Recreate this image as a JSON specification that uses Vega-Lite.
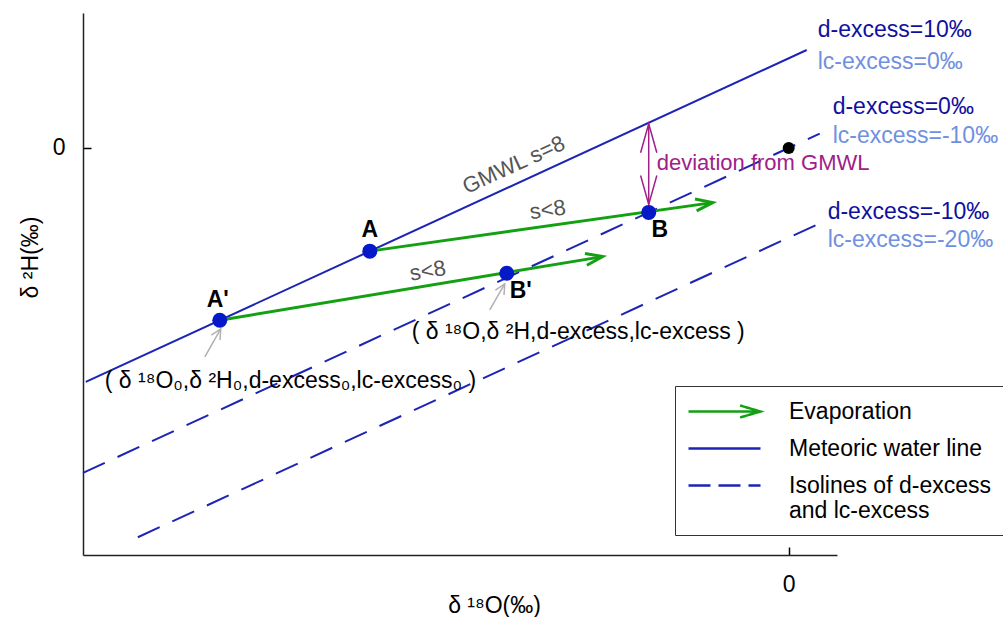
{
  "$schema": "https://vega.github.io/schema/vega-lite/v6.json",
  "width": 754,
  "height": 542,
  "autosize": {"type": "none"},
  "padding": {"left": 83, "top": 13, "right": 166, "bottom": 62},
  "background": "white",
  "config": {
    "view": {"stroke": null},
    "font": "Liberation Sans",
    "text": {"font": "Liberation Sans"}
  },
  "datasets": {
    "lines": [
      {"line": "GMWL", "series": "Meteoric water line", "x": -4.512, "y": -26.1},
      {"line": "GMWL", "series": "Meteoric water line", "x": 0.1155, "y": 10.92},
      {"line": "d0", "series": "Isolines of d-excess and lc-excess", "x": -4.53, "y": -36.24},
      {"line": "d0", "series": "Isolines of d-excess and lc-excess", "x": 0.199, "y": 1.59},
      {"line": "d-10", "series": "Isolines of d-excess and lc-excess", "x": -4.178, "y": -43.42},
      {"line": "d-10", "series": "Isolines of d-excess and lc-excess", "x": 0.173, "y": -8.62}
    ],
    "evap": [
      {"path": "A", "series": "Evaporation", "x": -2.689, "y": -11.51},
      {"path": "A", "series": "Evaporation", "x": -0.488, "y": -6.10},
      {"path": "A'", "series": "Evaporation", "x": -3.652, "y": -19.22},
      {"path": "A'", "series": "Evaporation", "x": -1.194, "y": -12.12}
    ],
    "guides": [
      {"id": "dev", "kind": "dev", "x": -0.8986, "y": 2.7},
      {"id": "dev", "kind": "dev", "x": -0.8986, "y": -6.3},
      {"id": "g1", "kind": "gray", "x": -3.748, "y": -23.30},
      {"id": "g1", "kind": "gray", "x": -3.646, "y": -20.18},
      {"id": "g2", "kind": "gray", "x": -1.919, "y": -18.06},
      {"id": "g2", "kind": "gray", "x": -1.823, "y": -15.16}
    ],
    "heads": [
      {"head": "evapA", "x": -0.488, "y": -6.10},
      {"head": "evapA2", "x": -1.194, "y": -12.12},
      {"head": "devTop", "x": -0.8986, "y": 2.7},
      {"head": "devBottom", "x": -0.8986, "y": -6.3},
      {"head": "gray", "x": -3.646, "y": -20.18},
      {"head": "gray", "x": -1.823, "y": -15.16}
    ],
    "points": [
      {"kind": "sample", "name": "A", "x": -2.689, "y": -11.51},
      {"kind": "sample", "name": "A'", "x": -3.652, "y": -19.22},
      {"kind": "sample", "name": "B", "x": -0.8986, "y": -7.19},
      {"kind": "sample", "name": "B'", "x": -1.81, "y": -13.97},
      {"kind": "origin", "name": "O", "x": 0, "y": 0}
    ],
    "texts": [
      {"group": "pt", "text": "A", "x": -2.689, "y": -9.14},
      {"group": "pt", "text": "A'", "x": -3.665, "y": -16.95},
      {"group": "pt", "text": "B", "x": -0.828, "y": -9.14},
      {"group": "pt", "text": "B'", "x": -1.72, "y": -15.94},
      {"group": "gmwl", "text": "GMWL s=8", "x": -1.765, "y": -1.895},
      {"group": "s1", "text": "s<8", "x": -1.547, "y": -6.91},
      {"group": "s2", "text": "s<8", "x": -2.317, "y": -13.71},
      {"group": "dev", "text": "deviation from GMWL", "x": -0.847, "y": -1.67},
      {"group": "coord", "text": "( δ ¹⁸O,δ ²H,d-excess,lc-excess )", "x": -2.42, "y": -20.51},
      {"group": "coord", "text": "( δ ¹⁸O₀,δ ²H₀,d-excess₀,lc-excess₀ )", "x": -4.39, "y": -25.98},
      {"group": "d", "text": "d-excess=10‰", "x": 0.186, "y": 13.15},
      {"group": "lc", "text": "lc-excess=0‰", "x": 0.186, "y": 9.59},
      {"group": "d", "text": "d-excess=0‰", "x": 0.282, "y": 4.57},
      {"group": "lc", "text": "lc-excess=-10‰", "x": 0.282, "y": 1.34},
      {"group": "d", "text": "d-excess=-10‰", "x": 0.25, "y": -7.13},
      {"group": "lc", "text": "lc-excess=-20‰", "x": 0.25, "y": -10.26}
    ]
  },
  "encoding": {
    "x": {
      "field": "x", "type": "quantitative",
      "scale": {"domain": [-4.53, 0.31], "nice": false, "zero": false},
      "axis": {
        "values": [0], "grid": false, "title": "δ ¹⁸O(‰)",
        "tickSize": -8, "tickColor": "black", "tickWidth": 1.5,
        "domainColor": "#222", "domainWidth": 1.5,
        "labelFontSize": 23, "labelColor": "black", "labelPadding": 26,
        "titleFontSize": 23, "titleFontWeight": "normal", "titleColor": "black",
        "titleX": 411, "titleY": 50, "titleAlign": "center", "titleBaseline": "middle"
      }
    },
    "y": {
      "field": "y", "type": "quantitative",
      "scale": {"domain": [-45.4, 15.05], "nice": false, "zero": false},
      "axis": {
        "values": [0], "grid": false, "title": "δ ²H(‰)",
        "tickSize": -8, "tickColor": "black", "tickWidth": 1.5,
        "domainColor": "#222", "domainWidth": 1.5,
        "labelFontSize": 23, "labelColor": "black", "labelPadding": 26,
        "titleFontSize": 23, "titleFontWeight": "normal", "titleColor": "black",
        "titleX": -53, "titleY": 244, "titleAngle": 270, "titleAlign": "center", "titleBaseline": "middle"
      }
    }
  },
  "layer": [
    {
      "data": {"name": "lines"},
      "transform": [{"filter": "datum.series == 'Meteoric water line'"}],
      "mark": {"type": "line", "strokeWidth": 2},
      "encoding": {
        "detail": {"field": "line"},
        "color": {
          "field": "series", "type": "nominal",
          "scale": {
            "domain": ["Evaporation", "Meteoric water line", "Isolines of d-excess and lc-excess"],
            "range": ["#13a013", "#1c24b4", "#1c24b4"]
          },
          "legend": {
            "orient": "none", "legendX": 592, "legendY": 373,
            "title": null, "strokeColor": "#333", "fillColor": "white",
            "padding": 12, "labelFontSize": 23, "labelFont": "Liberation Sans", "labelColor": "black",
            "symbolSize": 576, "symbolStrokeWidth": 2.5, "labelOffset": 75, "rowPadding": 11,
            "labelLimit": 400, "symbolType": "M-1,0L5,0",
            "labelExpr": "datum.label == 'Isolines of d-excess and lc-excess' ? ['Isolines of d-excess', 'and lc-excess'] : datum.label",
            "encode": {
              "symbols": {
                "update": {
                  "shape": {"signal": "datum.value === 'Evaporation' ? 'M-1,0L5,0M3.3,-0.5L5,0L3.3,0.5' : 'M-1,0L5,0'"},
                  "strokeDash": {"signal": "datum.value === 'Isolines of d-excess and lc-excess' ? [22, 8] : [1, 0]"},
                  "fill": {"value": "transparent"}
                }
              }
            }
          }
        }
      }
    },
    {
      "data": {"name": "lines"},
      "transform": [{"filter": "datum.series != 'Meteoric water line'"}],
      "mark": {"type": "line", "strokeWidth": 2, "strokeDash": [24, 14]},
      "encoding": {
        "detail": {"field": "line"},
        "color": {"field": "series", "type": "nominal"}
      }
    },
    {
      "data": {"name": "evap"},
      "mark": {"type": "line", "strokeWidth": 3},
      "encoding": {
        "detail": {"field": "path"},
        "color": {"field": "series", "type": "nominal"}
      }
    },
    {
      "data": {"name": "guides"},
      "transform": [{"filter": "datum.kind == 'dev'"}],
      "mark": {"type": "line", "strokeWidth": 1.5, "color": "#a0208a"},
      "encoding": {"detail": {"field": "id"}}
    },
    {
      "data": {"name": "guides"},
      "transform": [{"filter": "datum.kind == 'gray'"}],
      "mark": {"type": "line", "strokeWidth": 1.5, "color": "#b0b0b0"},
      "encoding": {"detail": {"field": "id"}}
    },
    {
      "data": {"name": "heads"},
      "transform": [{"filter": "datum.head == 'evapA'"}],
      "mark": {"type": "point", "shape": "M-1,-0.35L0,0L-1,0.35", "size": 1156, "angle": -7.85, "filled": false, "color": "#13a013", "strokeWidth": 3, "opacity": 1}
    },
    {
      "data": {"name": "heads"},
      "transform": [{"filter": "datum.head == 'evapA2'"}],
      "mark": {"type": "point", "shape": "M-1,-0.35L0,0L-1,0.35", "size": 1156, "angle": -9.49, "filled": false, "color": "#13a013", "strokeWidth": 3, "opacity": 1}
    },
    {
      "data": {"name": "heads"},
      "transform": [{"filter": "datum.head == 'devTop'"}],
      "mark": {"type": "point", "shape": "M-1,-0.28L0,0L-1,0.28", "size": 3364, "angle": -90, "filled": false, "color": "#a0208a", "strokeWidth": 1.5, "opacity": 1}
    },
    {
      "data": {"name": "heads"},
      "transform": [{"filter": "datum.head == 'devBottom'"}],
      "mark": {"type": "point", "shape": "M-1,-0.28L0,0L-1,0.28", "size": 3364, "angle": 90, "filled": false, "color": "#a0208a", "strokeWidth": 1.5, "opacity": 1}
    },
    {
      "data": {"name": "heads"},
      "transform": [{"filter": "datum.head == 'gray'"}],
      "mark": {"type": "point", "shape": "M-1,-0.5L0,0L-1,0.5", "size": 400, "angle": -60, "filled": false, "color": "#b0b0b0", "strokeWidth": 1.5, "opacity": 1}
    },
    {
      "data": {"name": "points"},
      "transform": [{"filter": "datum.kind == 'sample'"}],
      "mark": {"type": "point", "shape": "circle", "size": 225, "filled": true, "color": "#0519c9", "opacity": 1}
    },
    {
      "data": {"name": "points"},
      "transform": [{"filter": "datum.kind == 'origin'"}],
      "mark": {"type": "point", "shape": "circle", "size": 144, "filled": true, "color": "black", "opacity": 1}
    },
    {
      "data": {"name": "texts"},
      "transform": [{"filter": "datum.group == 'pt'"}],
      "mark": {"type": "text", "fontSize": 23, "fontWeight": "bold", "color": "black", "align": "center", "baseline": "middle"},
      "encoding": {"text": {"field": "text"}}
    },
    {
      "data": {"name": "texts"},
      "transform": [{"filter": "datum.group == 'gmwl'"}],
      "mark": {"type": "text", "fontSize": 22, "color": "#555555", "align": "center", "baseline": "middle", "angle": -24.7},
      "encoding": {"text": {"field": "text"}}
    },
    {
      "data": {"name": "texts"},
      "transform": [{"filter": "datum.group == 's1'"}],
      "mark": {"type": "text", "fontSize": 22, "color": "#555555", "align": "center", "baseline": "middle", "angle": -8},
      "encoding": {"text": {"field": "text"}}
    },
    {
      "data": {"name": "texts"},
      "transform": [{"filter": "datum.group == 's2'"}],
      "mark": {"type": "text", "fontSize": 22, "color": "#555555", "align": "center", "baseline": "middle", "angle": -9.5},
      "encoding": {"text": {"field": "text"}}
    },
    {
      "data": {"name": "texts"},
      "transform": [{"filter": "datum.group == 'dev'"}],
      "mark": {"type": "text", "fontSize": 22, "color": "#a0208a", "align": "left", "baseline": "middle"},
      "encoding": {"text": {"field": "text"}}
    },
    {
      "data": {"name": "texts"},
      "transform": [{"filter": "datum.group == 'coord'"}],
      "mark": {"type": "text", "fontSize": 23, "color": "black", "align": "left", "baseline": "middle"},
      "encoding": {"text": {"field": "text"}}
    },
    {
      "data": {"name": "texts"},
      "transform": [{"filter": "datum.group == 'd'"}],
      "mark": {"type": "text", "fontSize": 23, "color": "#10109e", "align": "left", "baseline": "middle"},
      "encoding": {"text": {"field": "text"}}
    },
    {
      "data": {"name": "texts"},
      "transform": [{"filter": "datum.group == 'lc'"}],
      "mark": {"type": "text", "fontSize": 23, "color": "#7090e0", "align": "left", "baseline": "middle"},
      "encoding": {"text": {"field": "text"}}
    }
  ]
}
